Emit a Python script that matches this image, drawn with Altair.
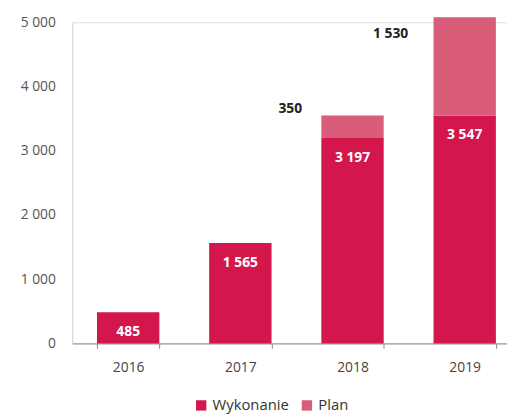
import altair as alt
import pandas as pd

years = ["2016", "2017", "2018", "2019"]
wykonanie = [485, 1565, 3197, 3547]
plan = [0, 0, 350, 1530]
series = ["Wykonanie", "Plan"]
colors = ["#D3164B", "#D95D79"]


def fmt(v):
    return f"{v:,}".replace(",", " ")


rows = []
for y, w, p in zip(years, wykonanie, plan):
    rows.append({"rok": y, "seria": "Wykonanie", "wartosc": w, "ord": 0, "start": 0, "end": w, "txt": fmt(w)})
    if p:
        rows.append({"rok": y, "seria": "Plan", "wartosc": p, "ord": 1, "start": w, "end": w + p, "txt": fmt(p)})
df = pd.DataFrame(rows)

FONT = "Open Sans"

x = alt.X(
    "rok:N",
    title=None,
    sort=years,
    scale=alt.Scale(paddingInner=0.444, paddingOuter=0.16, align=0.69),
    axis=alt.Axis(
        labelAngle=0, domainColor="#8a8a8a", tickColor="#8a8a8a", tickSize=5,
        tickBand="extent", labelPadding=12, labelFontSize=14, labelColor="#444",
        labelFont=FONT,
    ),
)

bars = alt.Chart(df).mark_bar().encode(
    x=x,
    y=alt.Y(
        "start:Q", title=None,
        scale=alt.Scale(domain=[0, 5000], nice=False),
        axis=alt.Axis(
            values=[0, 1000, 2000, 3000, 4000, 5000], ticks=False, grid=False,
            domainColor="#d8d8d8", labelPadding=17, labelFontSize=14, labelColor="#555",
            labelFont=FONT,
            labelExpr="replace(format(datum.value, ','), ',', ' ')",
        ),
    ),
    y2="end:Q",
    color=alt.Color(
        "seria:N", scale=alt.Scale(domain=series, range=colors),
        legend=alt.Legend(
            title=None, orient="none", direction="horizontal", legendX=123, legendY=55 + 325,
            symbolType="square", symbolSize=110, symbolStrokeWidth=0, labelFontSize=15,
            labelColor="#333", labelFont=FONT, columnPadding=10, labelOffset=4,
        ),
    ),
    order=alt.Order("ord:Q"),
)

inner = alt.Chart(df).transform_filter("datum.seria == 'Wykonanie'").mark_text(
    color="white", fontWeight="bold", fontSize=14, font=FONT, baseline="middle", dy=20
).encode(x=alt.X("rok:N", sort=years), y="end:Q", text="txt:N")

plan18 = alt.Chart(df).transform_filter("datum.seria == 'Plan' && datum.rok == '2018'").mark_text(
    color="#222", fontWeight="bold", fontSize=14, font=FONT, baseline="middle", dx=-63, dy=-7
).encode(x=alt.X("rok:N", sort=years), y="end:Q", text="txt:N")

plan19 = alt.Chart(df).transform_filter("datum.seria == 'Plan' && datum.rok == '2019'").mark_text(
    color="#222", fontWeight="bold", fontSize=14, font=FONT, baseline="middle", dx=-75, dy=17
).encode(x=alt.X("rok:N", sort=years), y="end:Q", text="txt:N")

chart = alt.layer(bars, inner, plan18, plan19).properties(
    width=440, height=325,
    autosize=alt.AutoSizeParams(type="none"),
    padding={"left": 65, "top": 12, "right": 0, "bottom": 70},
).configure_view(stroke=None).configure(background="white")

chart.save("out.html", embed_options={"renderer": "svg", "actions": False})
